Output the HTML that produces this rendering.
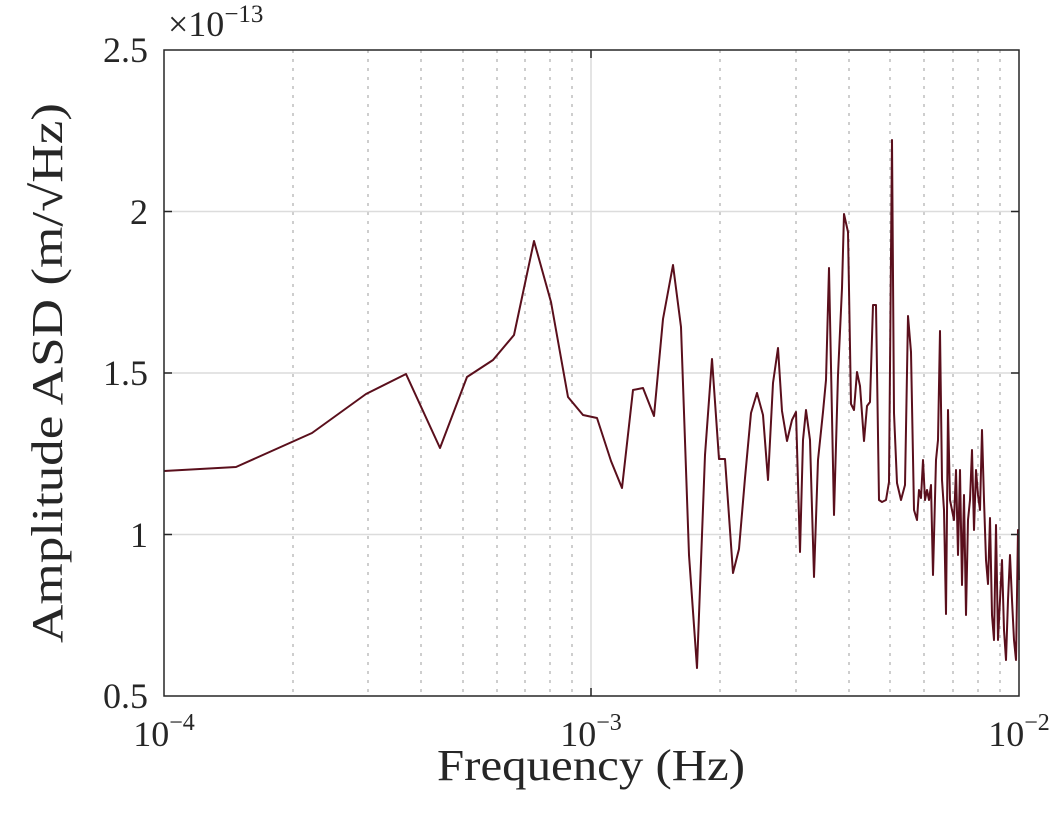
<!DOCTYPE html>
<html><head><meta charset="utf-8"><style>
html,body{margin:0;padding:0;background:#fff}
svg text{font-family:"Liberation Serif",serif;fill:#262626}
</style></head><body>
<svg width="1056" height="817" viewBox="0 0 1056 817" xmlns="http://www.w3.org/2000/svg">
<rect width="1056" height="817" fill="#fff"/>
<g stroke="#bdbdbd" stroke-width="1.5" stroke-dasharray="3,6">
<line x1="293" y1="50" x2="293" y2="696"/><line x1="368" y1="50" x2="368" y2="696"/>
<line x1="421" y1="50" x2="421" y2="696"/><line x1="463" y1="50" x2="463" y2="696"/>
<line x1="497" y1="50" x2="497" y2="696"/><line x1="525" y1="50" x2="525" y2="696"/>
<line x1="550" y1="50" x2="550" y2="696"/><line x1="572" y1="50" x2="572" y2="696"/>
<line x1="720" y1="50" x2="720" y2="696"/><line x1="796" y1="50" x2="796" y2="696"/>
<line x1="849" y1="50" x2="849" y2="696"/><line x1="890" y1="50" x2="890" y2="696"/>
<line x1="924" y1="50" x2="924" y2="696"/><line x1="953" y1="50" x2="953" y2="696"/>
<line x1="978" y1="50" x2="978" y2="696"/><line x1="1000" y1="50" x2="1000" y2="696"/>
</g>
<g stroke="#dcdcdc" stroke-width="1.5">
<line x1="591" y1="50" x2="591" y2="696"/>
<line x1="164" y1="211.5" x2="1019" y2="211.5"/>
<line x1="164" y1="373" x2="1019" y2="373"/>
<line x1="164" y1="534.5" x2="1019" y2="534.5"/>
</g>
<polyline fill="none" stroke="#5a0f1c" stroke-width="2" stroke-linejoin="round" points="164,471 236,467 312,433 366,394 406,374 440,448 467,377 493,360 514,335 534,241 551,302 568,397 583,415 597,418 611,461 622,488 633,390 643,388 654,416 663,319 673,265 681,327 689,555 697,668 705,455 712,359 719,459 725,459 733,573 739,549 745,478 751,413 757,393 763,415 768,480 773,383 778,348 782,411 787,441 792,420 796,412 800,552 803,440 806,410 810,440 814,577 818,460 823,412 826,380 829,268 834,515 838,375 842,288 844,214 848,232 851,404 854,410 857,372 860,386 864,441 867,406 870,402 873,305 876,305 879,500 882,502 886,500 889,482 892,140 894,413 897,483 901,500 905,485 908,316 911,352 914,510 917,520 919,490 921,498 923,460 925,500 927,490 929,500 931,485 933,575 936,460 938,440 940,331 942,480 944,510 946,614 948,410 950,500 952,510 954,520 956,470 958,555 960,470 962,585 964,495 966,615 968,520 970,500 972,450 974,530 976,470 978,495 980,510 982,430 984,500 986,560 988,584 990,518 992,615 994,640 996,525 998,640 1000,600 1002,560 1004,630 1006,660 1008,600 1010,555 1012,600 1014,640 1016,660 1018,530 1019,580"/>
<rect x="164" y="50" width="855" height="646" fill="none" stroke="#262626" stroke-width="1.5"/>
<g stroke="#262626" stroke-width="1.5">
<line x1="164" y1="211.5" x2="172" y2="211.5"/><line x1="164" y1="373" x2="172" y2="373"/><line x1="164" y1="534.5" x2="172" y2="534.5"/>
<line x1="1019" y1="211.5" x2="1011" y2="211.5"/><line x1="1019" y1="373" x2="1011" y2="373"/><line x1="1019" y1="534.5" x2="1011" y2="534.5"/>
<line x1="591" y1="696" x2="591" y2="688"/><line x1="591" y1="50" x2="591" y2="58"/>
</g>
<g font-size="36" text-anchor="end">
<text x="148" y="62">2.5</text><text x="148" y="224">2</text><text x="148" y="385">1.5</text>
<text x="148" y="547">1</text><text x="148" y="708">0.5</text>
</g>
<g font-size="36" text-anchor="middle">
<text x="164" y="746">10<tspan font-size="24" dy="-16">−4</tspan></text>
<text x="591" y="746">10<tspan font-size="24" dy="-16">−3</tspan></text>
<text x="1019" y="746">10<tspan font-size="24" dy="-16">−2</tspan></text>
<text x="591" y="780" font-size="44" textLength="308" lengthAdjust="spacingAndGlyphs">Frequency (Hz)</text>
</g>
<text x="168" y="36" font-size="36">×10<tspan font-size="25" dy="-14">−13</tspan></text>
<text transform="translate(62,373) rotate(-90)" font-size="44" text-anchor="middle" textLength="540" lengthAdjust="spacingAndGlyphs">Amplitude ASD (m/√Hz)</text>
</svg>
</body></html>
